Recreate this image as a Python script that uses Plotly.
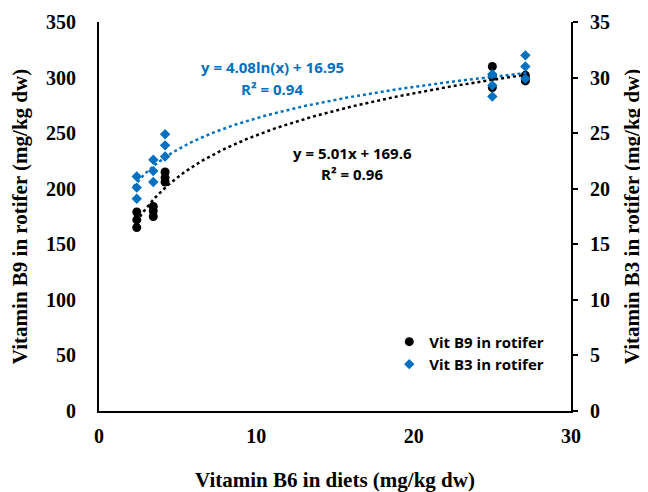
import numpy as np
import plotly.graph_objects as go

# Data
diet_b6 = [2.4, 2.4, 2.4, 3.45, 3.45, 3.45, 4.2, 4.2, 4.2, 25.0, 25.0, 25.0, 27.1, 27.1, 27.1]
vit_b9 = [165, 172, 179, 175, 180, 184, 206, 210, 215, 291, 301, 310, 297, 299, 302]
vit_b3 = [19.1, 20.1, 21.1, 20.6, 21.6, 22.6, 22.9, 23.9, 24.9, 28.3, 29.3, 30.3, 29.9, 31.0, 32.0]

x_ticks = [0, 10, 20, 30]
b9_ticks = [0, 50, 100, 150, 200, 250, 300, 350]
b3_ticks = [0, 5, 10, 15, 20, 25, 30, 35]

x = np.array(diet_b6)
lx = np.log(x)
a9, b9 = np.polyfit(lx, np.array(vit_b9), 1)
a3, b3 = np.polyfit(lx, np.array(vit_b3), 1)
xs = np.linspace(x.min() - 0.2, x.max() + 0.1, 200)

fig = go.Figure()
fig.add_trace(go.Scatter(x=xs, y=a9 * np.log(xs) + b9, mode="lines",
                         line=dict(color="black", width=2.5, dash="dot"),
                         showlegend=False, hoverinfo="skip"))
fig.add_trace(go.Scatter(x=xs, y=a3 * np.log(xs) + b3, mode="lines",
                         line=dict(color="#0070C0", width=2.5, dash="dot"),
                         showlegend=False, hoverinfo="skip", yaxis="y2"))
fig.add_trace(go.Scatter(x=diet_b6, y=vit_b9, mode="markers", name="<b>Vit B9 in rotifer</b>",
                         marker=dict(symbol="circle", size=9, color="black")))
fig.add_trace(go.Scatter(x=diet_b6, y=vit_b3, mode="markers", name="<b>Vit B3 in rotifer</b>",
                         marker=dict(symbol="diamond", size=8, color="#0070C0"),
                         yaxis="y2"))

tickfont = dict(family="Liberation Serif", size=20, color="black")
titlefont = dict(family="Liberation Serif", size=21, color="black")

# page body has an 8px margin, so the figure is drawn 8px in from the top-left corner
fig.update_layout(
    width=640, height=484,
    margin=dict(l=91, r=77, t=14, b=81),
    plot_bgcolor="white", paper_bgcolor="white",
    showlegend=True,
    legend=dict(x=0.615, y=0.22, xanchor="left", yanchor="top",
                font=dict(family="Open Sans", size=15, color="black"),
                bgcolor="rgba(0,0,0,0)", itemwidth=30),
    xaxis=dict(range=[0, 30], tickvals=x_ticks, ticktext=[f"<b>{t}</b>" for t in x_ticks],
               showgrid=False, zeroline=False, automargin=False,
               showline=True, linecolor="black", linewidth=2, ticks="",
               tickfont=tickfont, ticklabelstandoff=6,
               title=dict(text="<b>Vitamin B6 in diets (mg/kg dw)</b>", font=titlefont, standoff=35)),
    yaxis=dict(range=[0, 350], tickvals=b9_ticks, ticktext=[f"<b>{t}</b>" for t in b9_ticks],
               showgrid=False, zeroline=False, automargin=False,
               showline=True, linecolor="black", linewidth=2, ticks="",
               tickfont=tickfont, ticklabelstandoff=17,
               title=dict(text="<b>Vitamin B9 in rotifer (mg/kg dw)</b>", font=titlefont, standoff=17)),
    yaxis2=dict(range=[0, 35], tickvals=b3_ticks, ticktext=[f"<b>{t}</b>" for t in b3_ticks],
                overlaying="y", side="right", showgrid=False, automargin=False,
                zeroline=False, showline=True, linecolor="black", linewidth=2,
                ticks="outside", ticklen=5, tickwidth=1.5, tickcolor="black",
                tickfont=tickfont, ticklabelstandoff=8,
                title=dict(text="<b>Vitamin B3 in rotifer (mg/kg dw)</b>", font=titlefont, standoff=15)),
)

ann_font = dict(family="Open Sans", size=15)
fig.add_annotation(xref="x", yref="y", x=(272 - 99) / 472 * 30, y=(411 - 67) / 389 * 350,
                   text="<b>y = 4.08ln(x) + 16.95</b>", showarrow=False,
                   font=dict(color="#0070C0", **ann_font))
fig.add_annotation(xref="x", yref="y", x=(272 - 99) / 472 * 30, y=(411 - 89) / 389 * 350,
                   text="<b>R² = 0.94</b>", showarrow=False,
                   font=dict(color="#0070C0", **ann_font))
fig.add_annotation(xref="x", yref="y", x=(352 - 99) / 472 * 30, y=(411 - 153) / 389 * 350,
                   text="<b>y = 5.01x + 169.6</b>", showarrow=False,
                   font=dict(color="black", **ann_font))
fig.add_annotation(xref="x", yref="y", x=(352 - 99) / 472 * 30, y=(411 - 174) / 389 * 350,
                   text="<b>R² = 0.96</b>", showarrow=False,
                   font=dict(color="black", **ann_font))

fig.write_html("out.html")
